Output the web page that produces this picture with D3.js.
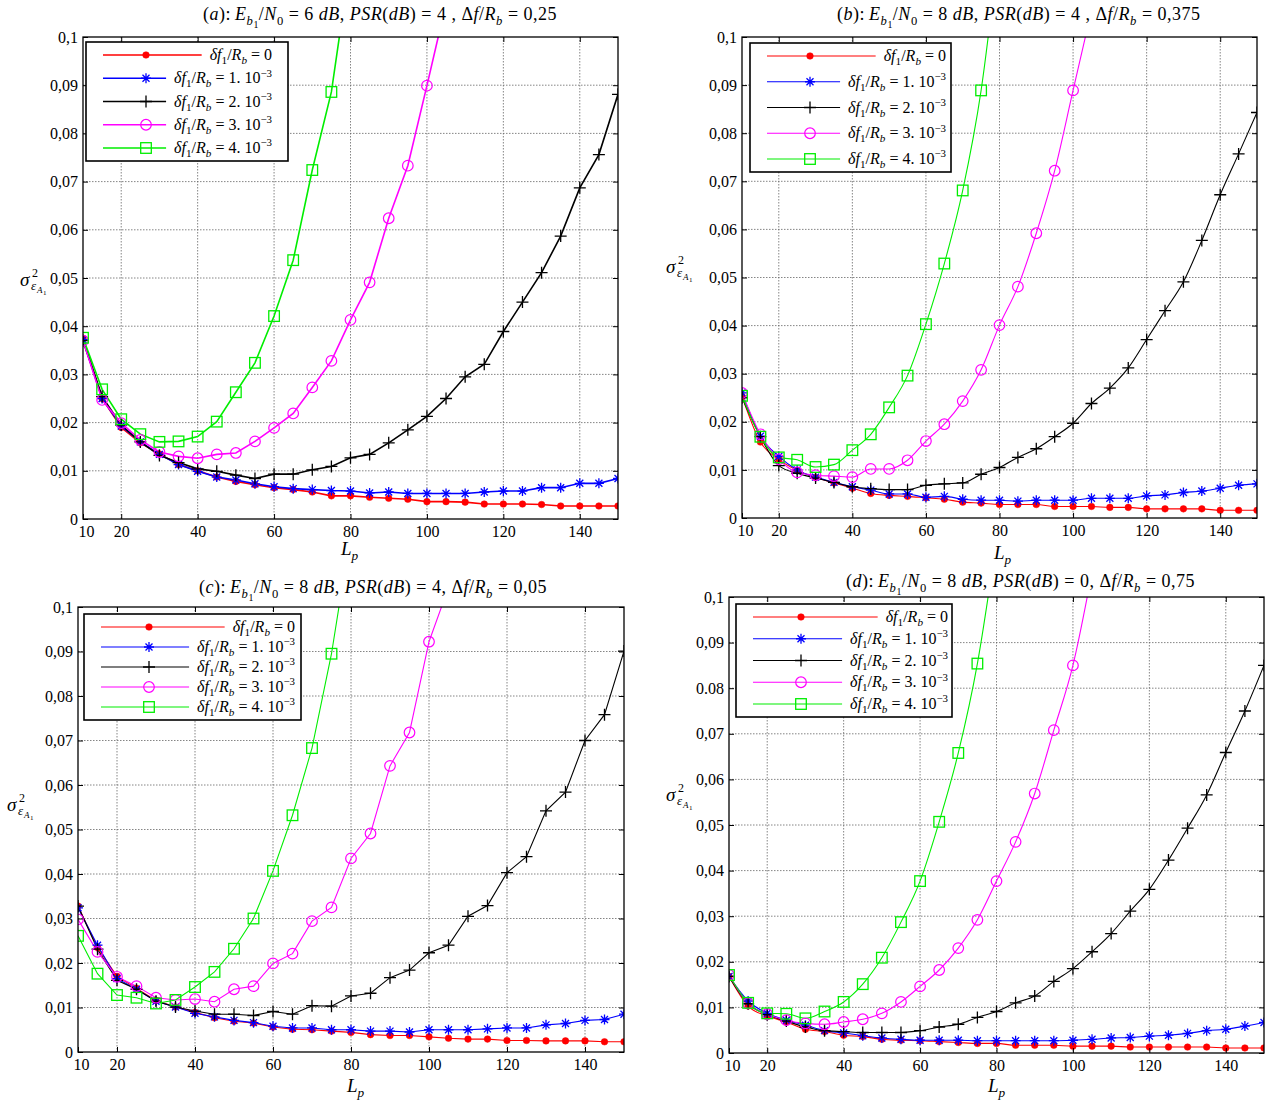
<!DOCTYPE html>
<html><head><meta charset="utf-8">
<script src="https://cdn.jsdelivr.net/npm/d3@7"></script>
<style>body{margin:0;background:#fff}</style>
</head><body>
<svg id="chart" width="1270" height="1102" xmlns="http://www.w3.org/2000/svg"></svg>
<script>
// ---------------- DATA ----------------
const Lp = [10,15,20,25,30,35,40,45,50,55,60,65,70,75,80,85,90,95,100,105,110,115,120,125,130,135,140,145,150];
const xTickValues = [10,20,40,60,80,100,120,140];
const xGridValues = [20,40,60,80,100,120,140];
const yTickValues = [0,0.01,0.02,0.03,0.04,0.05,0.06,0.07,0.08,0.09,0.1];
const yTickLabels = ['0','0,01','0,02','0,03','0,04','0,05','0,06','0,07','0,08','0,09','0,1'];
const yTickLabelsD = ['0','0,01','0,02','0,03','0,04','0,05','0,06','0,07','0.08','0,09','0,1'];
const seriesColors = ['#ff0000','#0000ff','#000000','#ff00ff','#00ee00'];
const seriesMarkers = ['dot','star','plus','circle','square'];
const legendValues = [['0',null],['1. 10','\u22123'],['2. 10','\u22123'],['3. 10','\u22123'],['4. 10','\u22123']];

// panel (a): Eb1/N0 = 6 dB, PSR = 4, Δf/Rb = 0,25
const A_df0 = [0.0375,0.025,0.019,0.0158,0.0135,0.0113,0.0100,0.0087,0.0078,0.0071,0.0065,0.0061,0.0056,0.0048,0.0048,0.0045,0.0043,0.0041,0.0036,0.0036,0.0035,0.0031,0.0031,0.0031,0.0030,0.0027,0.0027,0.0027,0.0027];
const A_df1 = [0.0372,0.025,0.0193,0.016,0.0134,0.0113,0.0099,0.0087,0.0081,0.0073,0.0067,0.0063,0.0061,0.0059,0.0058,0.0054,0.0056,0.0053,0.0053,0.0053,0.0053,0.0056,0.0058,0.0058,0.0065,0.0065,0.0074,0.0074,0.0084];
const A_df2 = [0.037,0.0254,0.0195,0.016,0.0132,0.0117,0.0104,0.0099,0.0091,0.0084,0.0093,0.0093,0.0102,0.0109,0.0127,0.0134,0.0158,0.0185,0.0213,0.025,0.0295,0.0321,0.0389,0.045,0.0511,0.0587,0.0687,0.0756,0.0881];
const A_df3 = [0.037,0.0247,0.0199,0.0164,0.0139,0.013,0.0126,0.0134,0.0137,0.0161,0.0189,0.0219,0.0273,0.0328,0.0413,0.0491,0.0624,0.0733,0.0899,0.107];
const A_df4 = [0.0376,0.0269,0.0207,0.0176,0.016,0.0161,0.0171,0.0202,0.0263,0.0324,0.0421,0.0537,0.0724,0.0886,0.116];

// panel (b): Eb1/N0 = 8 dB, PSR = 4, Δf/Rb = 0,375
const B_df0 = [0.0253,0.0158,0.0122,0.0099,0.0084,0.0073,0.0062,0.0051,0.0047,0.0045,0.0042,0.0039,0.0033,0.0031,0.0028,0.0028,0.0028,0.0024,0.0024,0.0024,0.0022,0.0022,0.0019,0.0019,0.0019,0.0019,0.0016,0.0016,0.0016];
const B_df1 = [0.026,0.017,0.0128,0.01,0.0085,0.0074,0.0065,0.0058,0.005,0.005,0.0043,0.0045,0.0039,0.0037,0.0037,0.0035,0.0037,0.0037,0.0037,0.0041,0.0041,0.0041,0.0046,0.0048,0.0053,0.0056,0.0062,0.0068,0.0071];
const B_df2 = [0.025,0.0169,0.0109,0.0093,0.0083,0.0074,0.0065,0.0061,0.0059,0.0059,0.0068,0.0071,0.0073,0.0091,0.0105,0.0126,0.0144,0.0169,0.0197,0.0238,0.027,0.0312,0.0371,0.0431,0.0491,0.0577,0.0672,0.0757,0.0843];
const B_df3 = [0.026,0.0174,0.0122,0.0095,0.0089,0.0087,0.0085,0.0102,0.0102,0.012,0.016,0.0195,0.0243,0.0308,0.0401,0.0481,0.0592,0.0722,0.0889,0.1055];
const B_df4 = [0.0254,0.0169,0.0126,0.0121,0.0106,0.0111,0.0141,0.0174,0.023,0.0296,0.0403,0.0529,0.0681,0.0889,0.12];

// panel (c): Eb1/N0 = 8 dB, PSR = 4, Δf/Rb = 0,05
const C_df0 = [0.0328,0.0235,0.017,0.0143,0.0116,0.0101,0.0089,0.0077,0.0069,0.0065,0.0056,0.0051,0.005,0.0047,0.0044,0.0039,0.0037,0.0037,0.0034,0.0031,0.0029,0.0029,0.0026,0.0026,0.0025,0.0025,0.0025,0.0023,0.0023];
const C_df1 = [0.0324,0.024,0.0165,0.0141,0.0114,0.0101,0.0087,0.0079,0.0071,0.0066,0.0058,0.0054,0.0054,0.005,0.005,0.0047,0.0047,0.0045,0.005,0.005,0.005,0.0052,0.0054,0.0054,0.0061,0.0064,0.0071,0.0073,0.0085];
const C_df2 = [0.0328,0.0231,0.0161,0.0141,0.0114,0.0101,0.0092,0.0085,0.0085,0.0082,0.0091,0.0085,0.0104,0.0103,0.0126,0.0132,0.0167,0.0184,0.0223,0.024,0.0305,0.0329,0.0403,0.0439,0.0542,0.0584,0.07,0.0758,0.0901];
const C_df3 = [0.0298,0.0225,0.0169,0.0148,0.0122,0.0117,0.0119,0.0113,0.0141,0.0148,0.0199,0.0221,0.0294,0.0325,0.0435,0.0491,0.0643,0.0718,0.0922,0.1044];
const C_df4 = [0.0261,0.0176,0.0128,0.0122,0.0109,0.0117,0.0146,0.018,0.0232,0.03,0.0407,0.0532,0.0683,0.0895,0.117];

// panel (d): Eb1/N0 = 8 dB, PSR = 0, Δf/Rb = 0,75
const D_df0 = [0.0168,0.0103,0.0081,0.0068,0.0052,0.0047,0.0039,0.0036,0.003,0.0028,0.0027,0.0025,0.0023,0.0021,0.0021,0.0017,0.0017,0.0017,0.0015,0.0015,0.0015,0.0013,0.0013,0.0013,0.0013,0.0013,0.0011,0.0011,0.0011];
const D_df1 = [0.0168,0.0114,0.0087,0.0072,0.0061,0.0049,0.0044,0.0038,0.0033,0.003,0.0028,0.0028,0.0028,0.0027,0.0027,0.0027,0.0027,0.0027,0.0028,0.003,0.0033,0.0034,0.0037,0.0039,0.0043,0.0049,0.0052,0.0059,0.0067];
const D_df2 = [0.0168,0.0108,0.0084,0.007,0.0057,0.0049,0.0047,0.0045,0.0045,0.0045,0.0049,0.0057,0.0063,0.0078,0.0091,0.011,0.0125,0.0157,0.0185,0.0222,0.0262,0.0311,0.0359,0.0423,0.0493,0.0566,0.0659,0.075,0.085];
const D_df3 = [0.0171,0.0109,0.0085,0.0072,0.0065,0.0063,0.0068,0.0074,0.0087,0.0112,0.0146,0.0182,0.023,0.0292,0.0377,0.0463,0.0569,0.0708,0.085,0.1055];
const D_df4 = [0.0171,0.011,0.0087,0.0086,0.0076,0.0091,0.0112,0.0151,0.0209,0.0287,0.0377,0.0507,0.0658,0.0854,0.1125];

const titleA = [['(','r'],['a','i'],['):\u2009','r'],['E','i'],['b','si'],['1','ssr'],['/','r'],['N','i'],['0','sr'],[' = 6 ','r'],['dB','i'],[', ','r'],['PSR','i'],['(','r'],['dB','i'],[') = 4 , \u0394','r'],['f','i'],['/','r'],['R','i'],['b','si'],[' = 0,25','r']];
const titleB = [['(','r'],['b','i'],['):\u2009','r'],['E','i'],['b','si'],['1','ssr'],['/','r'],['N','i'],['0','sr'],[' = 8 ','r'],['dB','i'],[', ','r'],['PSR','i'],['(','r'],['dB','i'],[') = 4 , \u0394','r'],['f','i'],['/','r'],['R','i'],['b','si'],[' = 0,375','r']];
const titleC = [['(','r'],['c','i'],['):\u2009','r'],['E','i'],['b','si'],['1','ssr'],['/','r'],['N','i'],['0','sr'],[' = 8 ','r'],['dB','i'],[', ','r'],['PSR','i'],['(','r'],['dB','i'],[') = 4, \u0394','r'],['f','i'],['/','r'],['R','i'],['b','si'],[' = 0,05','r']];
const titleD = [['(','r'],['d','i'],['):\u2009','r'],['E','i'],['b','si'],['1','ssr'],['/','r'],['N','i'],['0','sr'],[' = 8 ','r'],['dB','i'],[', ','r'],['PSR','i'],['(','r'],['dB','i'],[') = 0, \u0394','r'],['f','i'],['/','r'],['R','i'],['b','si'],[' = 0,75','r']];

// ---------------- LAYOUT ----------------
const panels = [
  {series:[A_df0,A_df1,A_df2,A_df3,A_df4], yLabels:yTickLabels, title:titleA, curve:d3.curveLinear, lw:1.6,
   box:{l:83,r:618,t:37,b:519}, titlePos:[203,20], ylab:[20,286], xlab:[341,555],
   legend:{x:86,y:42,w:202,h:119,textPad:16,marker:60}},
  {series:[B_df0,B_df1,B_df2,B_df3,B_df4], yLabels:yTickLabels, title:titleB, curve:d3.curveMonotoneX, lw:1.1,
   box:{l:742,r:1257,t:37,b:518}, titlePos:[837,20], ylab:[666,273], xlab:[994,559],
   legend:{x:750,y:43,w:201,h:129,textPad:5,marker:60}},
  {series:[C_df0,C_df1,C_df2,C_df3,C_df4], yLabels:yTickLabels, title:titleC, curve:d3.curveLinear, lw:1.1,
   box:{l:78,r:624,t:607,b:1052}, titlePos:[199,593], ylab:[7,811], xlab:[347,1092],
   legend:{x:84,y:614,w:217,h:106,textPad:6,marker:65}},
  {series:[D_df0,D_df1,D_df2,D_df3,D_df4], yLabels:yTickLabelsD, title:titleD, curve:d3.curveMonotoneX, lw:1.1,
   box:{l:729,r:1264,t:597,b:1053}, titlePos:[846,587], ylab:[666,801], xlab:[988,1092],
   legend:{x:736,y:604,w:216,h:113,textPad:4,marker:65}}
];

const FONT = "Liberation Serif, Times New Roman, serif";
const svg = d3.select('#chart');
svg.append('rect').attr('width',1270).attr('height',1102).attr('fill','#fff');

function mathText(parent, x, y, segs, size, anchor, spacing) {
  const t = parent.append('text').attr('x',x).attr('y',y)
    .attr('font-family',FONT).attr('font-size',size)
    .attr('text-anchor',anchor||'start').attr('fill','#000')
    .attr('letter-spacing', spacing || 0)
    .style('white-space','pre');
  let cur = 0;
  segs.forEach(([s, st]) => {
    const italic = st.indexOf('i') >= 0;
    let shift = 0, fs = size;
    if (st.startsWith('ss')) { shift = 0.42*size; fs = 0.55*size; }
    else if (st === 'sup') { shift = -0.42*size; fs = 0.68*size; }
    else if (st.startsWith('s')) { shift = 0.25*size; fs = 0.7*size; }
    t.append('tspan').attr('dy', shift - cur).attr('font-size', fs)
      .attr('font-style', italic ? 'italic' : 'normal').text(s);
    cur = shift;
  });
  return t;
}

function drawMarker(g, type, cx, cy, color) {
  if (type === 'dot') {
    g.append('circle').attr('cx',cx).attr('cy',cy).attr('r',3.3).attr('fill',color).attr('stroke',color).attr('stroke-width',0.5);
  } else if (type === 'star') {
    const s = 5;
    const p = `M${cx-s},${cy}L${cx+s},${cy}M${cx},${cy-s}L${cx},${cy+s}M${cx-s*0.7},${cy-s*0.7}L${cx+s*0.7},${cy+s*0.7}M${cx-s*0.7},${cy+s*0.7}L${cx+s*0.7},${cy-s*0.7}`;
    g.append('path').attr('d',p).attr('stroke',color).attr('stroke-width',1.3).attr('fill','none');
  } else if (type === 'plus') {
    const s = 6;
    g.append('path').attr('d',`M${cx-s},${cy}L${cx+s},${cy}M${cx},${cy-s}L${cx},${cy+s}`).attr('stroke',color).attr('stroke-width',1.3).attr('fill','none');
  } else if (type === 'circle') {
    g.append('circle').attr('cx',cx).attr('cy',cy).attr('r',5.3).attr('fill','none').attr('stroke',color).attr('stroke-width',1.2);
  } else if (type === 'square') {
    const s = 5.3;
    g.append('rect').attr('x',cx-s).attr('y',cy-s).attr('width',2*s).attr('height',2*s).attr('fill','none').attr('stroke',color).attr('stroke-width',1.3);
  }
}

panels.forEach((p, pi) => {
  const B = p.box;
  const x = d3.scaleLinear().domain([10,150]).range([B.l,B.r]);
  const y = d3.scaleLinear().domain([0,0.1]).range([B.b,B.t]);
  const g = svg.append('g');

  // grid
  const grid = g.append('g').attr('stroke','#666').attr('stroke-width',0.8).attr('stroke-dasharray','1.5,1.5');
  xGridValues.forEach(v => grid.append('line').attr('x1',x(v)).attr('x2',x(v)).attr('y1',B.t).attr('y2',B.b));
  yTickValues.slice(1,-1).forEach(v => grid.append('line').attr('x1',B.l).attr('x2',B.r).attr('y1',y(v)).attr('y2',y(v)));

  // clip
  const cid = 'clip' + pi;
  svg.append('clipPath').attr('id',cid).append('rect').attr('x',B.l).attr('y',B.t).attr('width',B.r-B.l).attr('height',B.b-B.t);

  const plot = g.append('g').attr('clip-path',`url(#${cid})`);
  const line = d3.line().x((d,i) => x(Lp[i])).y(d => y(d)).curve(p.curve);
  p.series.forEach((s, si) => {
    plot.append('path').datum(s).attr('d',line).attr('fill','none')
      .attr('stroke',seriesColors[si]).attr('stroke-width',p.lw);
  });
  p.series.forEach((s, si) => {
    const mg = plot.append('g');
    s.forEach((v, i) => { if (v <= 0.1) drawMarker(mg, seriesMarkers[si], x(Lp[i]), y(v), seriesColors[si]); });
  });

  // frame
  g.append('rect').attr('x',B.l).attr('y',B.t).attr('width',B.r-B.l).attr('height',B.b-B.t)
    .attr('fill','none').attr('stroke','#000').attr('stroke-width',1.3);

  // axes
  const xa = g.append('g').attr('transform',`translate(0,${B.b})`)
    .call(d3.axisBottom(x).tickValues(xTickValues).tickSize(-5).tickPadding(12).tickFormat(d3.format('d')));
  const xaTop = g.append('g').attr('transform',`translate(0,${B.t})`)
    .call(d3.axisTop(x).tickValues(xGridValues).tickSize(-5).tickFormat(''));
  const ya = g.append('g').attr('transform',`translate(${B.l},0)`)
    .call(d3.axisLeft(y).tickValues(yTickValues).tickSize(-5).tickPadding(5).tickFormat((d,i) => p.yLabels[i]));
  const yaR = g.append('g').attr('transform',`translate(${B.r},0)`)
    .call(d3.axisRight(y).tickValues(yTickValues).tickSize(-5).tickFormat(''));
  [xa,xaTop,ya,yaR].forEach(a => {
    a.attr('font-family',FONT);
    a.select('.domain').remove();
    a.selectAll('line').attr('stroke','#000').attr('stroke-width',1);
    a.selectAll('text').attr('font-family',FONT).attr('font-size',16).attr('fill','#000');
  });
  xa.selectAll('text').attr('dy','0.35em');
  xa.selectAll('.tick').filter(d => d === 10).select('text').attr('dx', 3);

  // legend
  const L = p.legend;
  const lg = g.append('g');
  lg.append('rect').attr('x',L.x).attr('y',L.y).attr('width',L.w).attr('height',L.h)
    .attr('fill','#fff').attr('stroke','#000').attr('stroke-width',1.6);
  const sp = (L.h - 26) / 4;
  legendValues.forEach((lv, i) => {
    const ry = L.y + 13 + i*sp;
    const segs = [['\u03b4','i'],['f','i'],['1','sr'],['/','r'],['R','i'],['b','si'],[' = ' + lv[0],'r']];
    if (lv[1]) segs.push([lv[1],'sup']);
    const t = mathText(lg, L.x + L.w - L.textPad, ry + 5, segs, 16, 'end');
    const bb = t.node().getBBox();
    lg.append('line').attr('x1',L.x+17).attr('x2',Math.max(bb.x - 8, L.x + L.marker + 20)).attr('y1',ry).attr('y2',ry)
      .attr('stroke',seriesColors[i]).attr('stroke-width',p.lw);
    drawMarker(lg, seriesMarkers[i], L.x + L.marker, ry, seriesColors[i]);
  });

  // title
  mathText(g, p.titlePos[0], p.titlePos[1], p.title, 18, 'start', 0.5);

  // y label: sigma^2_{eps_{A_1}}
  const [sx, sy] = p.ylab;
  const yl = g.append('g').attr('font-family',FONT).attr('fill','#000');
  yl.append('text').attr('x',sx).attr('y',sy).attr('font-size',19).attr('font-style','italic').text('\u03c3');
  yl.append('text').attr('x',sx+12).attr('y',sy-9).attr('font-size',12).text('2');
  yl.append('text').attr('x',sx+11).attr('y',sy+4).attr('font-size',13).attr('font-style','italic').text('\u03b5');
  yl.append('text').attr('x',sx+17).attr('y',sy+7).attr('font-size',9).attr('font-style','italic').text('A');
  yl.append('text').attr('x',sx+23).attr('y',sy+9).attr('font-size',7).text('1');

  // x label
  mathText(g, p.xlab[0], p.xlab[1], [['L','i'],['p','si']], 19, 'start');
});
</script>
</body></html>
